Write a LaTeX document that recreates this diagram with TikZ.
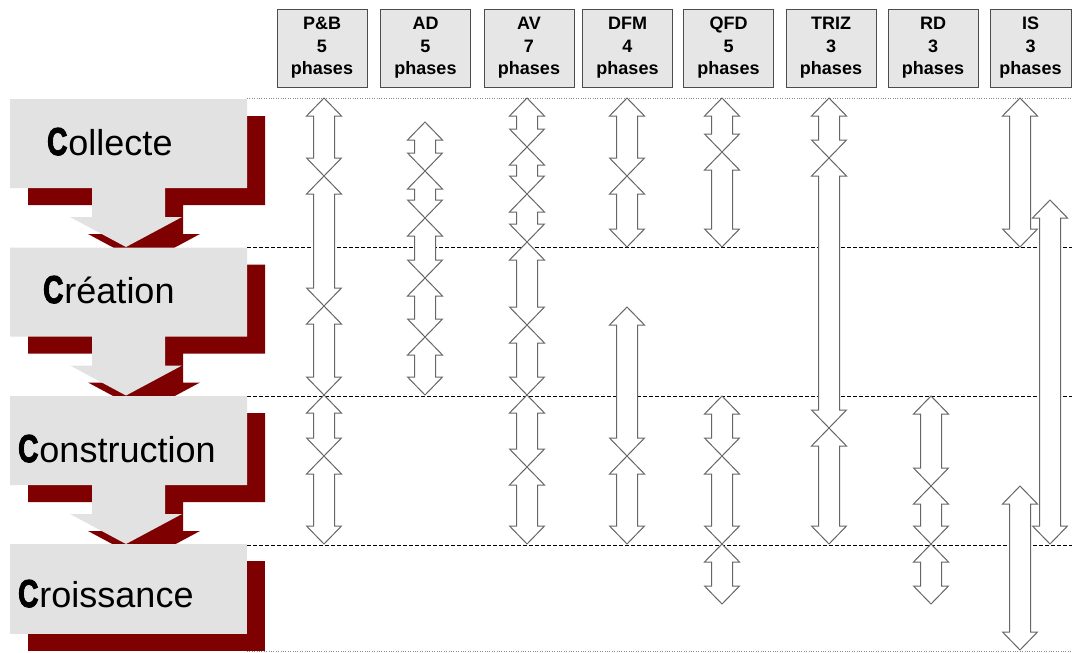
\documentclass[tikz,border=0pt]{standalone}
\usepackage{fontspec}
\setmainfont{Liberation Sans}
\newfontfamily\heavyC[UprightFont={* Bold},FakeBold=3]{Liberation Sans}
\usetikzlibrary{calc}
\definecolor{stagegray}{HTML}{E2E2E2}
\definecolor{stagered}{HTML}{7F0000}
\definecolor{headgray}{HTML}{E6E6E6}
\newcommand{\bigC}{\scalebox{0.78}[1.08]{\heavyC C}\hspace{1pt}}
% double-headed block arrow: column x, top tip, bottom tip
\newcommand{\phasearrow}[3]{%
  \draw[phasearr] (#1,#2) -- ++(17.5,18) -- ++(-7,0) -- ({#1+10.5},{#3-18}) -- ++(7,0)
    -- (#1,#3) -- ++(-17.5,-18) -- ++(7,0) -- ({#1-10.5},{#2+18}) -- ++(-7,0) -- cycle;}
% stage block with its down arrow, top at #1
\newcommand{\stageblock}[2]{%
  \fill[#2] (10,#1) -- (247,#1) -- (247,{#1+89}) -- (165,{#1+89}) -- (165,{#1+118})
    -- (182,{#1+118}) -- (126,{#1+148}) -- (70,{#1+118}) -- (92,{#1+118})
    -- (92,{#1+89}) -- (10,{#1+89}) -- cycle;}
\tikzset{
  phasearr/.style={draw=black!60,fill=white,line width=1pt,line join=miter},
  method/.style={draw=black!70,fill=headgray,line width=0.8pt,minimum height=78,
    inner sep=0pt,align=center,font=\bfseries\fontsize{18}{22.5}\selectfont},
  stagetext/.style={anchor=base west,inner sep=0pt,font=\fontsize{36}{40}\selectfont},
  shadowed/.style={stagered,shift={(18,17)}}
}

\begin{document}
\begin{tikzpicture}[x=1pt,y=-1pt]
  \useasboundingbox (0,0) rectangle (1072,653);

  % method headers
  \foreach \cx/\w/\lbl/\n [count=\i] in {322/90/P\&B/5, 425.5/90/AD/5, 529/90/AV/7,
      627.5/90/DFM/4, 728.5/90/QFD/5, 831/90/TRIZ/3, 933/90/RD/3, 1030.5/81/IS/3}
    \node[method,minimum width=\w] (m\i) at (\cx,48) {\lbl\\\n\\phases};

  % phase limits
  \draw[black!45,dotted] (247,98) -- (1072,98);
  \foreach \y in {247,396,545}
    \draw[black,dash pattern=on 4pt off 2pt] (247,\y) -- (1072,\y);
  \draw[black!45,dotted] (247,651) -- (1072,651);

  % the four C stages
  \foreach \t in {99,247.5,396}{
    \stageblock{\t}{shadowed}
    \stageblock{\t}{stagegray}
  }
  \fill[shadowed] (10,544) rectangle (247,634);
  \fill[stagegray] (10,544) rectangle (247,634);

  \node[stagetext] (collecte) at (47,155) {\bigC ollecte};
  \node[stagetext] (creation) at (43,303) {\bigC r\'eation};
  \node[stagetext] (construction) at (18,462) {\bigC onstruction};
  \node[stagetext] (croissance) at (18,607) {\bigC roissance};

  % phases of each method
  \foreach \x/\a/\b in {324/98/176, 324/176/306, 324/306/395, 324/395/456, 324/456/544,
      425/122/171, 425/171/218, 425/218/278, 425/278/337, 425/337/395,
      527/98/147, 527/147/194, 527/194/242, 527/242/325, 527/325/395, 527/395/467, 527/467/544,
      627/98/176, 627/176/247, 627/307/456, 627/456/544,
      722/98/152, 722/152/247, 722/396/456, 722/456/544, 722/544/604,
      829/98/158, 829/158/428, 829/428/544,
      931/396/486, 931/486/544, 931/544/604,
      1020/98/247, 1050/200/544, 1020/486/650}
    {\phasearrow{\x}{\a}{\b}}
\end{tikzpicture}
\end{document}
